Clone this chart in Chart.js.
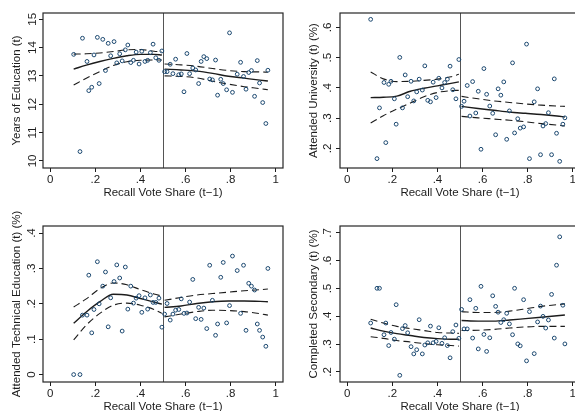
<!DOCTYPE html>
<html>
<head>
<meta charset="utf-8">
<script src="https://cdn.jsdelivr.net/npm/chart.js@4.4.1/dist/chart.umd.min.js"></script>
<style>
  html, body { margin: 0; padding: 0; background: #fff; overflow: hidden; width: 575px; height: 411px; }
  #fig { position: relative; width: 600px; height: 411px; }
  #fig canvas { position: absolute; }
</style>
</head>
<body>
<div id="fig">
  <canvas id="edu" width="290" height="205" style="left:0;top:0"></canvas>
  <canvas id="uni" width="300" height="205" style="left:290px;top:0"></canvas>
  <canvas id="tech" width="290" height="214" style="left:0;top:205px"></canvas>
  <canvas id="sec" width="300" height="214" style="left:290px;top:205px"></canvas>
</div>
<script>
// Binned recall vote share (t-1), below and above the 50% threshold
const binsLeft = [0.104, 0.132, 0.143, 0.163, 0.171, 0.184, 0.194, 0.209, 0.217, 0.233,
  0.245, 0.257, 0.268, 0.283, 0.295, 0.308, 0.319, 0.333, 0.344, 0.357,
  0.369, 0.381, 0.394, 0.406, 0.420, 0.432, 0.444, 0.456, 0.468, 0.482, 0.495];
const binsRight = [0.507, 0.518, 0.532, 0.544, 0.556, 0.570, 0.581, 0.593, 0.606, 0.618,
  0.632, 0.645, 0.658, 0.669, 0.681, 0.694, 0.707, 0.719, 0.733, 0.742,
  0.756, 0.767, 0.782, 0.795, 0.808, 0.829, 0.844, 0.857, 0.868, 0.880,
  0.892, 0.906, 0.918, 0.928, 0.942, 0.956, 0.965];
const cutoff = 0.5;

// Bin means
const educationLeft = [13.76, 10.33, 14.33, 13.51, 12.48, 12.60, 13.74, 14.36, 12.73, 14.29,
  13.19, 14.15, 13.71, 14.21, 13.46, 13.78, 13.53, 13.92, 14.09, 13.47,
  13.55, 13.84, 13.42, 13.87, 13.51, 13.55, 13.82, 14.12, 13.64, 13.55, 13.88];
const educationRight = [13.15, 13.15, 13.41, 13.08, 13.59, 13.04, 13.07, 12.44, 13.79, 13.08,
  13.28, 13.21, 12.73, 13.51, 13.68, 13.61, 12.89, 12.86, 13.56, 12.32,
  12.88, 12.73, 12.51, 14.52, 12.42, 13.06, 13.48, 12.98, 12.53, 13.12,
  13.19, 12.28, 13.54, 12.75, 12.06, 11.32, 13.20];

const universityLeft = [0.627, 0.166, 0.334, 0.418, 0.219, 0.412, 0.422, 0.364, 0.280, 0.501,
  0.334, 0.443, 0.371, 0.422, 0.357, 0.387, 0.429, 0.393, 0.473, 0.359,
  0.354, 0.419, 0.368, 0.432, 0.400, 0.418, 0.429, 0.472, 0.394, 0.364, 0.494];
const universityRight = [0.339, 0.356, 0.408, 0.307, 0.421, 0.317, 0.389, 0.197, 0.464, 0.379,
  0.340, 0.316, 0.245, 0.397, 0.376, 0.420, 0.230, 0.324, 0.483, 0.251,
  0.298, 0.267, 0.271, 0.545, 0.166, 0.354, 0.397, 0.179, 0.274, 0.282,
  0.318, 0.179, 0.430, 0.250, 0.157, 0.280, 0.301];

const technicalLeft = [0.000, 0.000, 0.168, 0.168, 0.281, 0.118, 0.184, 0.319, 0.200, 0.250,
  0.290, 0.135, 0.217, 0.263, 0.310, 0.273, 0.123, 0.304, 0.185, 0.250,
  0.202, 0.216, 0.223, 0.176, 0.217, 0.185, 0.225, 0.204, 0.204, 0.216, 0.134];
const technicalRight = [0.171, 0.201, 0.154, 0.171, 0.182, 0.184, 0.214, 0.173, 0.174, 0.205,
  0.269, 0.158, 0.190, 0.156, 0.188, 0.130, 0.309, 0.210, 0.111, 0.143,
  0.275, 0.317, 0.146, 0.195, 0.335, 0.294, 0.173, 0.309, 0.125, 0.258,
  0.250, 0.239, 0.143, 0.125, 0.106, 0.080, 0.300];

const secondaryLeft = [0.376, 0.501, 0.501, 0.334, 0.376, 0.295, 0.342, 0.318, 0.442, 0.188,
  0.356, 0.367, 0.341, 0.291, 0.265, 0.280, 0.388, 0.265, 0.297, 0.305,
  0.365, 0.305, 0.310, 0.359, 0.303, 0.323, 0.295, 0.251, 0.345, 0.369, 0.321];
const secondaryRight = [0.425, 0.355, 0.355, 0.460, 0.322, 0.429, 0.283, 0.508, 0.335, 0.274,
  0.323, 0.474, 0.436, 0.415, 0.378, 0.388, 0.411, 0.373, 0.334, 0.501,
  0.301, 0.294, 0.460, 0.240, 0.417, 0.266, 0.380, 0.437, 0.400, 0.358,
  0.387, 0.479, 0.322, 0.584, 0.686, 0.440, 0.301];

// Local polynomial fits with 95% bands, on each side of the threshold
const fitGridLeft = [0.104, 0.16, 0.22, 0.28, 0.34, 0.40, 0.46, 0.495];
const fitGridRight = [0.507, 0.58, 0.65, 0.72, 0.79, 0.86, 0.93, 0.965];

const educationFitL = [13.24, 13.38, 13.51, 13.62, 13.71, 13.76, 13.76, 13.74];
const educationHiL  = [13.77, 13.78, 13.81, 13.86, 13.92, 13.93, 13.87, 13.85];
const educationLoL  = [12.68, 12.92, 13.15, 13.37, 13.50, 13.55, 13.56, 13.56];
const educationFitR = [13.24, 13.21, 13.17, 13.09, 12.99, 12.92, 12.85, 12.82];
const educationHiR  = [13.42, 13.39, 13.34, 13.26, 13.19, 13.15, 13.14, 13.13];
const educationLoR  = [13.00, 12.98, 12.93, 12.81, 12.71, 12.62, 12.55, 12.51];

const universityFitL = [0.368, 0.369, 0.373, 0.389, 0.399, 0.407, 0.415, 0.420];
const universityHiL  = [0.453, 0.430, 0.421, 0.422, 0.425, 0.429, 0.437, 0.445];
const universityLoL  = [0.284, 0.308, 0.330, 0.350, 0.371, 0.385, 0.391, 0.392];
const universityFitR = [0.339, 0.332, 0.326, 0.320, 0.316, 0.312, 0.307, 0.304];
const universityHiR  = [0.372, 0.364, 0.357, 0.352, 0.347, 0.343, 0.340, 0.339];
const universityLoR  = [0.306, 0.301, 0.297, 0.293, 0.288, 0.282, 0.277, 0.274];

const technicalFitL = [0.145, 0.177, 0.206, 0.227, 0.225, 0.215, 0.205, 0.199];
const technicalHiL  = [0.191, 0.214, 0.243, 0.259, 0.254, 0.240, 0.228, 0.222];
const technicalLoL  = [0.098, 0.140, 0.173, 0.196, 0.202, 0.196, 0.184, 0.173];
const technicalFitR = [0.190, 0.194, 0.201, 0.206, 0.208, 0.208, 0.207, 0.206];
const technicalHiR  = [0.210, 0.218, 0.225, 0.229, 0.233, 0.237, 0.240, 0.242];
const technicalLoR  = [0.163, 0.171, 0.178, 0.182, 0.181, 0.178, 0.172, 0.168];

const secondaryFitL = [0.358, 0.347, 0.338, 0.331, 0.324, 0.320, 0.318, 0.318];
const secondaryHiL  = [0.390, 0.376, 0.364, 0.356, 0.349, 0.342, 0.340, 0.339];
const secondaryLoL  = [0.327, 0.321, 0.313, 0.308, 0.302, 0.298, 0.295, 0.293];
const secondaryFitR = [0.385, 0.383, 0.383, 0.387, 0.392, 0.397, 0.402, 0.405];
const secondaryHiR  = [0.417, 0.414, 0.414, 0.419, 0.427, 0.436, 0.442, 0.445];
const secondaryLoR  = [0.349, 0.350, 0.353, 0.358, 0.362, 0.364, 0.364, 0.364];

// Axis ticks
const xTickValues = [0, 0.2, 0.4, 0.6, 0.8, 1];
const xTickLabels = ['0', '.2', '.4', '.6', '.8', '1'];
const educationTicks = [10, 11, 12, 13, 14, 15];
const educationTickLabels = ['10', '11', '12', '13', '14', '15'];
const universityTicks = [0.2, 0.3, 0.4, 0.5, 0.6];
const universityTickLabels = ['.2', '.3', '.4', '.5', '.6'];
const technicalTicks = [0, 0.1, 0.2, 0.3, 0.4];
const technicalTickLabels = ['0', '.1', '.2', '.3', '.4'];
const secondaryTicks = [0.2, 0.3, 0.4, 0.5, 0.6, 0.7];
const secondaryTickLabels = ['.2', '.3', '.4', '.5', '.6', '.7'];

const SANS = '"Liberation Sans", Arial, Helvetica, sans-serif';
const INK = '#1c1c1c';
const NAVY = '#1a476f';
const FONT = { family: SANS, size: 11.5 };

function pairs(xs, ys) { return xs.map((x, i) => ({ x, y: ys[i] })); }

// Plot-region frame and the threshold line
const framePlugin = {
  id: 'frame',
  beforeDatasetsDraw(chart, args, opts) {
    const { ctx, chartArea: a, scales: { x } } = chart;
    const px = Math.round(x.getPixelForValue(opts.cutoff)) + 0.5;
    ctx.save();
    ctx.strokeStyle = '#555';
    ctx.lineWidth = 1;
    ctx.beginPath();
    ctx.moveTo(px, a.top);
    ctx.lineTo(px, a.bottom);
    ctx.stroke();
    ctx.restore();
  },
  afterDraw(chart) {
    const { ctx, chartArea: a } = chart;
    ctx.save();
    ctx.strokeStyle = '#262626';
    ctx.lineWidth = 1.2;
    ctx.strokeRect(a.left, a.top, a.right - a.left, a.bottom - a.top);
    ctx.restore();
  }
};

function fitLine(xs, ys, dashed) {
  return {
    data: pairs(xs, ys),
    showLine: true,
    borderColor: INK,
    borderWidth: dashed ? 1.1 : 1.4,
    borderDash: dashed ? [7, 4] : [],
    pointRadius: 0,
    fill: false,
    cubicInterpolationMode: 'monotone'
  };
}

function panel(id, p) {
  const datasets = [
    {
      data: pairs(binsLeft.concat(binsRight), p.left.concat(p.right)),
      showLine: false,
      pointStyle: 'circle',
      pointRadius: 1.9,
      pointBorderWidth: 1,
      pointBorderColor: NAVY,
      pointBackgroundColor: 'rgba(0,0,0,0)'
    },
    fitLine(fitGridLeft, p.fitL, false),
    fitLine(fitGridLeft, p.hiL, true),
    fitLine(fitGridLeft, p.loL, true),
    fitLine(fitGridRight, p.fitR, false),
    fitLine(fitGridRight, p.hiR, true),
    fitLine(fitGridRight, p.loR, true)
  ];
  new Chart(document.getElementById(id), {
    type: 'scatter',
    data: { datasets },
    options: {
      responsive: false,
      animation: false,
      devicePixelRatio: 1,
      layout: { padding: { left: 0, top: p.padTop, right: p.padRight, bottom: 0 } },
      plugins: { legend: { display: false }, tooltip: { enabled: false }, frame: { cutoff } },
      scales: {
        x: {
          type: 'linear', min: -0.032, max: 1.032,
          afterFit(s) { s.height = 37; },
          afterBuildTicks(s) { s.ticks = xTickValues.map(v => ({ value: v })); },
          ticks: {
            autoSkip: false, maxRotation: 0, padding: 1, color: INK, font: FONT,
            callback: (v, i) => xTickLabels[i]
          },
          grid: { display: true, drawOnChartArea: false, drawTicks: true, tickLength: 4, color: INK, lineWidth: 1 },
          border: { display: false },
          title: { display: true, text: 'Recall Vote Share (t−1)', color: INK, font: FONT, padding: { top: 0, bottom: 5 } }
        },
        y: {
          type: 'linear', min: p.yMin, max: p.yMax,
          afterFit(s) { s.width = p.yW; },
          afterBuildTicks(s) { s.ticks = p.ticks.map(v => ({ value: v })); },
          ticks: {
            autoSkip: false, minRotation: 90, maxRotation: 90, crossAlign: 'center',
            padding: p.tickPad, color: INK, font: FONT,
            callback: (v, i) => p.tickLabels[i]
          },
          grid: { display: true, drawOnChartArea: false, drawTicks: true, tickLength: 4, color: INK, lineWidth: 1 },
          border: { display: false },
          title: { display: true, text: p.title, color: INK, font: FONT, padding: { top: p.yW - 26 - 6.9, bottom: 0 } }
        }
      }
    },
    plugins: [framePlugin]
  });
}

panel('edu', {
  left: educationLeft, right: educationRight,
  fitL: educationFitL, hiL: educationHiL, loL: educationLoL,
  fitR: educationFitR, hiR: educationHiR, loR: educationLoR,
  yMin: 9.75, yMax: 15.22, ticks: educationTicks, tickLabels: educationTickLabels,
  title: 'Years of Education (t)', padTop: 13, padRight: 7, yW: 43, tickPad: 0
});
panel('uni', {
  left: universityLeft, right: universityRight,
  fitL: universityFitL, hiL: universityHiL, loL: universityLoL,
  fitR: universityFitR, hiR: universityHiR, loR: universityLoR,
  yMin: 0.135, yMax: 0.648, ticks: universityTicks, tickLabels: universityTickLabels,
  title: 'Attended University (t) (%)', padTop: 13, padRight: 10, yW: 50, tickPad: 3
});
panel('tech', {
  left: technicalLeft, right: technicalRight,
  fitL: technicalFitL, hiL: technicalHiL, loL: technicalLoL,
  fitR: technicalFitR, hiR: technicalHiR, loR: technicalLoR,
  yMin: -0.021, yMax: 0.42, ticks: technicalTicks, tickLabels: technicalTickLabels,
  title: 'Attended Technical Education (t) (%)', padTop: 21, padRight: 7, yW: 43, tickPad: 2
});
panel('sec', {
  left: secondaryLeft, right: secondaryRight,
  fitL: secondaryFitL, hiL: secondaryHiL, loL: secondaryLoL,
  fitR: secondaryFitR, hiR: secondaryHiR, loR: secondaryLoR,
  yMin: 0.164, yMax: 0.725, ticks: secondaryTicks, tickLabels: secondaryTickLabels,
  title: 'Completed Secondary (t) (%)', padTop: 21, padRight: 10, yW: 50, tickPad: 3
});
</script>
</body>
</html>
